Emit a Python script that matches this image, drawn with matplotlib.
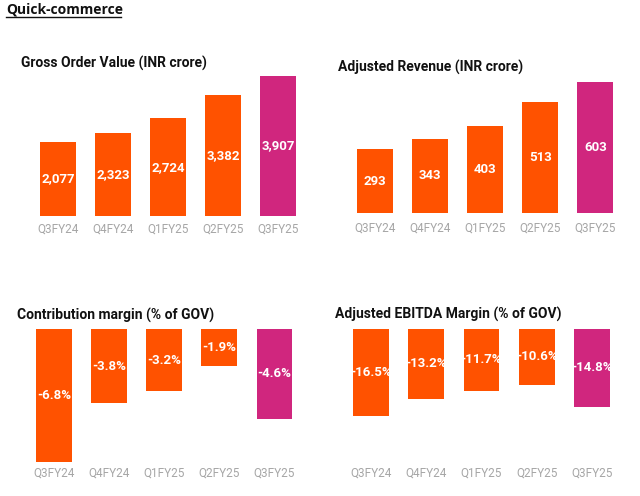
import matplotlib as mpl
import matplotlib.pyplot as plt
import numpy as np

mpl.rcParams['font.family'] = ['Roboto', 'DejaVu Sans']

# datos
trimestres = ["Q3FY24", "Q4FY24", "Q1FY25", "Q2FY25", "Q3FY25"]
gov = [2077, 2323, 2724, 3382, 3907]
revenue = [293, 343, 403, 513, 603]
contribution = [-6.8, -3.8, -3.2, -1.9, -4.6]
ebitda = [-16.5, -13.2, -11.7, -10.6, -14.8]

gov_labels = ["2,077", "2,323", "2,724", "3,382", "3,907"]
rev_labels = ["293", "343", "403", "513", "603"]
cont_labels = ["-6.8%", "-3.8%", "-3.2%", "-1.9%", "-4.6%"]
ebitda_labels = ["-16.5%", "-13.2%", "-11.7%", "-10.6%", "-14.8%"]

naranja = '#FF5200'
magenta = '#D0267E'
colors = [naranja] * 4 + [magenta]

W, H = 640, 496
fig = plt.figure(figsize=(6.4, 4.96), dpi=100)


def panel(left, top, width, height, valores, etiquetas, ylim, titulo, tx, ty):
    # left/top en pixeles desde arriba a la izquierda
    ax = fig.add_axes([left / W, 1 - (top + height) / H, width / W, height / H])
    x = np.arange(len(valores))
    barras = ax.bar(x, valores, width=0.65, color=colors)
    for b, v, t in zip(barras, valores, etiquetas):
        ax.text(b.get_x() + b.get_width() / 2, v / 2, t, ha='center', va='center',
                color='white', fontsize=9.5, fontweight='bold')
    ax.set_xlim(-0.5, len(valores) - 0.5)
    ax.set_ylim(*ylim)
    ax.set_yticks([])
    for s in ax.spines.values():
        s.set_visible(False)
    fig.text(tx / W, 1 - ty / H, titulo, fontsize=10, fontweight='bold',
             ha='left', va='center', color='#111111')
    return ax


# graficar GOV
ax1 = panel(30.5, 66, 275, 150, gov, gov_labels, (0, 4190),
            'Gross Order Value (INR crore)', 21, 63)
ax1.set_xticks(np.arange(5), trimestres)
ax1.tick_params(axis='x', length=0, pad=5, labelsize=8.5, labelcolor='#A6A6A6')

# graficar revenue
ax2 = panel(347, 63, 276, 150, revenue, rev_labels, (0, 691),
            'Adjusted Revenue (INR crore)', 338, 67)
ax2.set_xticks(np.arange(5), trimestres)
ax2.tick_params(axis='x', length=0, pad=6, labelsize=8.5, labelcolor='#A6A6A6')

# graficar contribution margin
ax3 = panel(26.5, 329, 275.5, 140, contribution, cont_labels, (-140 / 19.5, 0),
            'Contribution margin (% of GOV)', 17, 315)
ax3.set_xticks([])

# graficar EBITDA
ax4 = panel(343.5, 329, 276, 140, ebitda, ebitda_labels, (-140 / 5.27, 0),
            'Adjusted EBITDA Margin (% of GOV)', 335, 314)
ax4.set_xticks([])

# etiquetas de abajo (fila fija en y=473 px)
for ax in (ax3, ax4):
    trans = mpl.transforms.blended_transform_factory(ax.transData, fig.transFigure)
    for i, t in enumerate(trimestres):
        ax.text(i, 1 - 473 / H, t, transform=trans, ha='center', va='center',
                fontsize=8.5, color='#A6A6A6')

fig.text(6 / W, 1 - 9 / H, 'Quick-commerce', fontsize=10, fontweight='bold',
         family=['Open Sans', 'DejaVu Sans'], ha='left', va='center', color='#111111')
fig.add_artist(plt.Line2D([6 / W, 121 / W], [1 - 17 / H, 1 - 17 / H], color='#111111', lw=1))

fig.savefig('out.png', dpi=100)
